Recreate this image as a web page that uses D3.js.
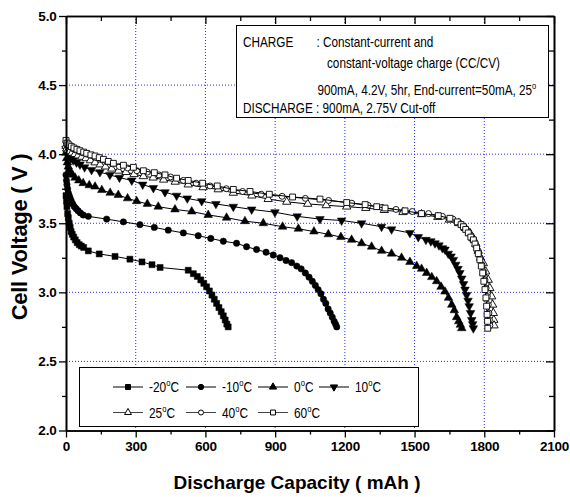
<!DOCTYPE html>
<html>
<head>
<meta charset="utf-8">
<script src="https://cdn.jsdelivr.net/npm/d3@7"></script>
<style>
body { margin: 0; background: #fff; }
svg { display: block; font-family: "Liberation Sans", Arial, sans-serif; }
</style>
</head>
<body>
<svg id="chart"></svg>
<script>
// discharge curves, [capacity mAh, cell voltage V]
const curve_m20 = [[0,3.70],[2,3.66],[4,3.62],[7,3.57],[10,3.54],[14,3.50],[18,3.47],[22,3.44],[27,3.42],[33,3.40],[40,3.38],[48,3.36],[57,3.345],[66,3.335],[76,3.325],
  [96,3.30],[143,3.278],[211,3.26],[275,3.24],[327,3.22],[370,3.20],[405,3.18],[526,3.16],[548,3.135],[565,3.115],[580,3.09],[593,3.065],[605,3.04],[617,3.01],
  [628,2.98],[638,2.95],[648,2.92],[658,2.89],[668,2.86],[677,2.83],[685,2.80],[692,2.77],[698,2.75]];
const curve_m10 = [[0,3.85],[2,3.81],[4,3.78],[7,3.75],[10,3.72],[14,3.70],[18,3.68],[23,3.66],[29,3.64],[36,3.62],[44,3.605],[52,3.59],[62,3.575],[74,3.56],
  [96,3.55],[175,3.53],[247,3.51],[318,3.49],[380,3.47],[440,3.45],[505,3.43],[569,3.41],[623,3.39],[677,3.37],[734,3.355],[777,3.33],[820,3.31],[861,3.29],
  [892,3.27],[921,3.25],[947,3.23],[971,3.215],[993,3.19],[1012,3.17],[1030,3.14],[1046,3.11],[1060,3.08],[1073,3.05],[1085,3.02],[1097,2.99],[1108,2.95],
  [1118,2.92],[1128,2.88],[1137,2.85],[1146,2.82],[1154,2.79],[1160,2.77],[1165,2.75]];
const curve_0 = [[0,4.01],[3,3.97],[6,3.94],[10,3.91],[15,3.885],[21,3.865],[28,3.85],[39,3.83],[55,3.81],[74,3.79],[100,3.775],[125,3.765],[154,3.74],[190,3.72],
  [225,3.705],[265,3.68],[304,3.66],[350,3.64],[397,3.62],[469,3.60],[541,3.585],[612,3.56],[691,3.54],[770,3.515],[849,3.50],[932,3.475],[1000,3.46],[1067,3.44],
  [1129,3.42],[1183,3.40],[1229,3.38],[1272,3.355],[1315,3.33],[1358,3.30],[1401,3.28],[1444,3.25],[1480,3.22],[1509,3.19],[1530,3.17],[1552,3.14],[1574,3.11],
  [1595,3.08],[1614,3.04],[1631,3.005],[1646,2.96],[1660,2.91],[1671,2.87],[1681,2.82],[1690,2.79],[1697,2.765],[1703,2.74]];
const curve_10 = [[0,4.04],[5,4.01],[12,3.99],[20,3.97],[31,3.955],[45,3.94],[60,3.925],[80,3.905],[110,3.886],[146,3.87],[189,3.85],[230,3.83],[283,3.81],
  [330,3.78],[376,3.755],[426,3.725],[476,3.70],[522,3.68],[584,3.66],[645,3.64],[720,3.62],[799,3.60],[899,3.58],[995,3.55],[1093,3.53],[1186,3.52],[1272,3.50],
  [1358,3.475],[1401,3.456],[1480,3.43],[1516,3.40],[1549,3.38],[1570,3.37],[1588,3.355],[1605,3.34],[1620,3.32],[1631,3.31],[1645,3.28],[1657,3.26],[1667,3.235],
  [1677,3.20],[1687,3.17],[1695,3.14],[1703,3.10],[1711,3.06],[1717,3.02],[1724,2.98],[1730,2.94],[1735,2.90],[1741,2.85],[1746,2.80],[1750,2.77],[1753,2.74]];
const curve_25 = [[0,4.06],[3,4.04],[8,4.03],[16,4.02],[26,4.01],[38,4.00],[52,3.99],[68,3.98],[86,3.97],[105,3.955],[125,3.94],[147,3.925],[170,3.91],[197,3.895],
  [226,3.88],[258,3.87],[293,3.855],[333,3.84],[375,3.83],[420,3.815],[470,3.80],[526,3.78],[590,3.76],[655,3.745],[720,3.72],[800,3.70],[870,3.675],[950,3.655],
  [1040,3.64],[1120,3.63],[1208,3.62],[1290,3.61],[1370,3.595],[1450,3.58],[1530,3.565],[1600,3.545],[1650,3.525],[1690,3.50],[1718,3.465],[1738,3.43],[1752,3.39],
  [1764,3.35],[1774,3.30],[1784,3.25],[1796,3.21],[1806,3.15],[1817,3.09],[1824,3.03],[1832,2.97],[1836,2.91],[1839,2.85],[1841,2.80],[1842,2.76]];
const curve_40 = [[0,4.09],[4,4.07],[10,4.06],[20,4.05],[30,4.04],[42,4.03],[56,4.02],[72,4.01],[90,4.00],[110,3.99],[130,3.975],[152,3.96],[175,3.945],[200,3.93],
  [230,3.91],[265,3.90],[305,3.88],[350,3.87],[400,3.85],[450,3.835],[505,3.81],[560,3.79],[620,3.77],[690,3.75],[760,3.73],[840,3.71],[930,3.695],[1030,3.68],
  [1130,3.665],[1230,3.645],[1300,3.63],[1360,3.615],[1420,3.60],[1490,3.585],[1560,3.57],[1620,3.55],[1665,3.53],[1695,3.50],[1715,3.47],[1730,3.44],[1743,3.41],
  [1755,3.38],[1765,3.34],[1774,3.30],[1782,3.25],[1790,3.20],[1797,3.15],[1803,3.09],[1808,3.03],[1813,2.97],[1817,2.91],[1820,2.85],[1822,2.80],[1824,2.76]];
const curve_60 = [[0,4.10],[5,4.08],[13,4.067],[23,4.055],[34,4.045],[47,4.035],[60,4.025],[76,4.015],[89,4.006],[107,3.995],[125,3.987],[143,3.975],[161,3.963],
  [182,3.948],[204,3.934],[247,3.92],[290,3.905],[333,3.88],[380,3.866],[426,3.85],[476,3.826],[526,3.81],[588,3.79],[651,3.77],[720,3.745],[792,3.73],[875,3.71],
  [975,3.69],[1093,3.675],[1208,3.65],[1287,3.635],[1337,3.62],[1373,3.61],[1459,3.59],[1530,3.57],[1602,3.555],[1652,3.536],[1684,3.51],[1700,3.49],[1710,3.475],
  [1720,3.455],[1731,3.43],[1742,3.40],[1753,3.38],[1760,3.35],[1767,3.32],[1774,3.28],[1781,3.235],[1787,3.19],[1793,3.14],[1798,3.08],[1803,3.02],[1807,2.96],
  [1810,2.90],[1812,2.84],[1814,2.79],[1815,2.74]];

const temp_labels = ["-20", "-10", "0", "10", "25", "40", "60"];
const x_major = [0, 300, 600, 900, 1200, 1500, 1800, 2100];
const x_minor = [150, 450, 750, 1050, 1350, 1650, 1950];
const y_major = [2.0, 2.5, 3.0, 3.5, 4.0, 4.5, 5.0];
const y_minor = [2.25, 2.75, 3.25, 3.75, 4.25, 4.75];
const x_grid = [300, 600, 900, 1200, 1500, 1800];
const y_grid = [2.5, 3.0, 3.5, 4.0, 4.5];

const note_lines = [
    ["CHARGE", ": Constant-current and"],
    ["", "constant-voltage charge (CC/CV)"],
    ["", "900mA, 4.2V, 5hr, End-current=50mA, 25"],
    ["DISCHARGE : 900mA, 2.75V Cut-off", ""]
];

class DischargeChart {

    constructor( config, curves ) {
        this.config = {
            parent: config.parent,
            width: config.width || 570,
            height: config.height || 497,
            margin: config.margin || {top:16, right:16, bottom:66.5, left:66}
        }
        this.curves = curves;
        this.init();
    }

    init() {
        let self = this;

        self.svg = d3.select( self.config.parent )
            .attr('width', self.config.width)
            .attr('height', self.config.height);

        self.inner_width = self.config.width - self.config.margin.left - self.config.margin.right;
        self.inner_height = self.config.height - self.config.margin.top - self.config.margin.bottom;

        self.chart = self.svg.append('g')
            .attr('transform', `translate(${self.config.margin.left}, ${self.config.margin.top})`);

        self.xscale = d3.scaleLinear()
            .domain( [0, 2100] )
            .range( [0, self.inner_width] );

        self.yscale = d3.scaleLinear()
            .domain( [2, 5] )
            .range( [self.inner_height, 0] );

        self.line = d3.line()
            .x( d => self.xscale( d[0] ) )
            .y( d => self.yscale( d[1] ) );

        // marker style per temperature, same order as temp_labels
        self.markers = [
            {type: d3.symbolSquare, size: 36, fill: '#000', rot: 0},
            {type: d3.symbolCircle, size: 32, fill: '#000', rot: 0},
            {type: d3.symbolTriangle, size: 32, fill: '#000', rot: 0},
            {type: d3.symbolTriangle, size: 32, fill: '#000', rot: 180},
            {type: d3.symbolTriangle, size: 30, fill: '#fff', rot: 0},
            {type: d3.symbolCircle, size: 28, fill: '#fff', rot: 0},
            {type: d3.symbolSquare, size: 34, fill: '#fff', rot: 0}
        ];
    }

    render() {
        let self = this;
        const w = self.inner_width, h = self.inner_height;

        // dotted blue grid
        self.chart.selectAll('.xgrid')
            .data(x_grid)
            .enter()
            .append('line')
            .attr('x1', d => self.xscale(d))
            .attr('x2', d => self.xscale(d))
            .attr('y1', 0)
            .attr('y2', h)
            .attr('stroke', '#2b2bff')
            .attr('stroke-dasharray', '1,2');

        self.chart.selectAll('.ygrid')
            .data(y_grid)
            .enter()
            .append('line')
            .attr('x1', 0)
            .attr('x2', w)
            .attr('y1', d => self.yscale(d))
            .attr('y2', d => self.yscale(d))
            .attr('stroke', '#2b2bff')
            .attr('stroke-dasharray', '1,2');

        // condition box, top right
        const note = self.svg.append('g');
        note.append('rect')
            .attr('x', 236.5).attr('y', 25.5)
            .attr('width', 312).attr('height', 92)
            .attr('fill', '#fff').attr('stroke', '#000');
        const note_rows = [47, 67.5, 94.5, 113];
        note_lines.forEach((row, i) => {
            if (row[0]) {
                note.append('text')
                    .attr('transform', `translate(243, ${note_rows[i]}) scale(0.84, 1)`)
                    .attr('font-size', 14)
                    .text(row[0]);
            }
            if (row[1]) {
                const t = note.append('text')
                    .attr('transform', `translate(${i == 0 ? 316.5 : i == 1 ? 327 : 317.5}, ${note_rows[i]}) scale(0.84, 1)`)
                    .attr('font-size', 14)
                    .text(row[1]);
                if (i == 2) {
                    t.append('tspan').attr('font-size', 9).attr('dy', -6).text('o');
                }
            }
        });

        // legend box
        const legend = self.svg.append('g');
        legend.append('rect')
            .attr('x', 79.5).attr('y', 367.5)
            .attr('width', 339).attr('height', 59)
            .attr('fill', '#fff').attr('stroke', '#000');
        const cols = [113, 186, 258, 319];
        temp_labels.forEach((lab, i) => {
            const lx = cols[i < 4 ? i : i - 4];
            const ly = i < 4 ? 387 : 412.5;
            legend.append('line')
                .attr('x1', lx).attr('x2', lx + 30)
                .attr('y1', ly).attr('y2', ly)
                .attr('stroke', i < 4 ? '#000' : '#444');
            const m = self.markers[i];
            legend.append('path')
                .attr('d', d3.symbol().type(m.type).size(m.size * 0.7)())
                .attr('transform', `translate(${lx + 15}, ${ly}) rotate(${m.rot})`)
                .attr('fill', m.fill)
                .attr('stroke', '#000');
            const t = legend.append('text')
                .attr('transform', `translate(${lx + 36}, ${ly + 5}) scale(0.85, 1)`)
                .attr('font-size', 14)
                .text(lab);
            t.append('tspan').attr('font-size', 9).attr('dy', -6).text('o');
            t.append('tspan').attr('dy', 6).text('C');
        });

        // curves and markers
        self.curves.forEach((c, i) => {
            const m = self.markers[i];
            const g = self.chart.append('g');
            g.append('path')
                .datum(c)
                .attr('d', self.line)
                .attr('fill', 'none')
                .attr('stroke', '#000')
                .attr('stroke-width', 1);
            g.selectAll('path.pt')
                .data(c)
                .enter()
                .append('path')
                .attr('class', 'pt')
                .attr('d', d3.symbol().type(m.type).size(m.size)())
                .attr('transform', d => `translate(${self.xscale(d[0])}, ${self.yscale(d[1])}) rotate(${m.rot})`)
                .attr('fill', m.fill)
                .attr('stroke', '#000')
                .attr('stroke-width', m.fill == '#fff' ? 0.9 : 0.5);
        });

        // axes, ticks outside on bottom/left and inside on top/right
        const bottom = self.chart.append('g')
            .attr('transform', `translate(0, ${h})`)
            .call( d3.axisBottom(self.xscale).tickValues(x_major).tickSize(7).tickSizeOuter(0).tickFormat(d3.format('d')) );
        self.chart.append('g')
            .attr('transform', `translate(0, ${h})`)
            .call( d3.axisBottom(self.xscale).tickValues(x_minor).tickSize(4).tickSizeOuter(0).tickFormat('') );
        const left = self.chart.append('g')
            .call( d3.axisLeft(self.yscale).tickValues(y_major).tickSize(7).tickSizeOuter(0).tickFormat(d3.format('.1f')) );
        self.chart.append('g')
            .call( d3.axisLeft(self.yscale).tickValues(y_minor).tickSize(4).tickSizeOuter(0).tickFormat('') );
        self.chart.append('g')
            .call( d3.axisBottom(self.xscale).tickValues(x_major).tickSize(8).tickSizeOuter(0).tickFormat('') );
        self.chart.append('g')
            .call( d3.axisBottom(self.xscale).tickValues(x_minor).tickSize(5).tickSizeOuter(0).tickFormat('') );
        self.chart.append('g')
            .attr('transform', `translate(${w}, 0)`)
            .call( d3.axisLeft(self.yscale).tickValues(y_major).tickSize(8).tickSizeOuter(0).tickFormat('') );
        self.chart.append('g')
            .attr('transform', `translate(${w}, 0)`)
            .call( d3.axisLeft(self.yscale).tickValues(y_minor).tickSize(5).tickSizeOuter(0).tickFormat('') );

        self.chart.selectAll('.domain').attr('stroke', '#000').attr('stroke-width', 1.6);
        self.chart.selectAll('.tick line').attr('stroke', '#000').attr('stroke-width', 1.3);
        bottom.selectAll('text')
            .attr('font-family', '"Liberation Sans", Arial, sans-serif')
            .attr('font-size', 13.5).attr('font-weight', 'bold')
            .attr('letter-spacing', '-0.2px')
            .attr('y', 10.5).attr('dy', '0.71em').attr('fill', '#000');
        left.selectAll('text')
            .attr('font-family', '"Liberation Sans", Arial, sans-serif')
            .attr('font-size', 13.5).attr('font-weight', 'bold')
            .attr('letter-spacing', '-0.2px')
            .attr('x', -9.5).attr('fill', '#000');

        // axis titles
        self.svg.append('text')
            .attr('x', 297).attr('y', 489)
            .attr('text-anchor', 'middle')
            .attr('font-size', 19).attr('font-weight', 'bold')
            .text('Discharge Capacity ( mAh )');
        self.svg.append('text')
            .attr('transform', 'translate(27, 237) rotate(-90)')
            .attr('text-anchor', 'middle')
            .attr('font-size', 22).attr('font-weight', 'bold')
            .attr('letter-spacing', '-0.3px')
            .text('Cell Voltage ( V )');
    }
}

const chart = new DischargeChart( {parent: '#chart'},
    [curve_m20, curve_m10, curve_0, curve_10, curve_25, curve_40, curve_60] );
chart.render();
</script>
</body>
</html>
